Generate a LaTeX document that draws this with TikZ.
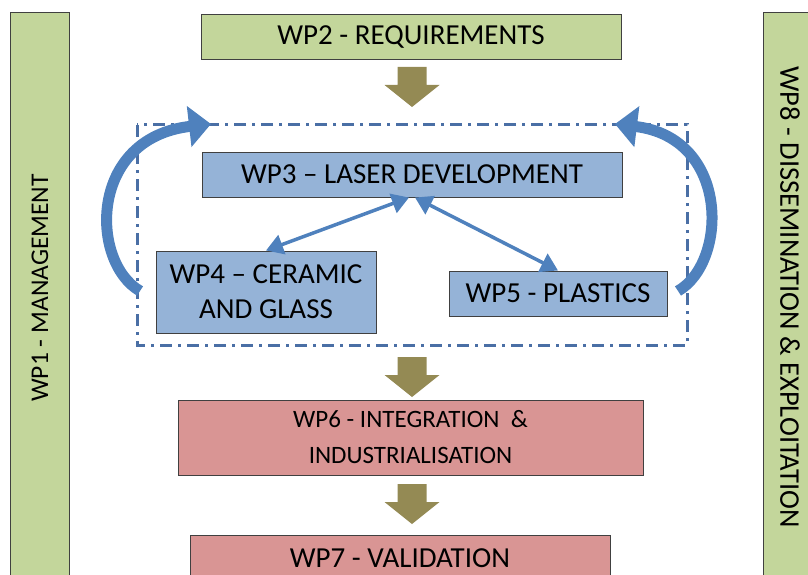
\documentclass[tikz,border=0pt]{standalone}
\usepackage{fontspec}
\setmainfont{Carlito}
\usetikzlibrary{arrows.meta}
\definecolor{wpgreen}{HTML}{C3D69B}
\definecolor{wpblue}{HTML}{95B3D7}
\definecolor{wppink}{HTML}{D99594}
\definecolor{wpolive}{HTML}{948A54}
\definecolor{wplink}{HTML}{4F81BD}
\definecolor{wpdash}{HTML}{4A6FA5}
% olive block arrow pointing down, top centre at (#1,#2)
\newcommand{\dnarrow}[2]{\fill[wpolive] (#1-14.5,#2)--(#1+14.5,#2)--(#1+14.5,#2+18)--(#1+27.5,#2+18)--(#1,#2+40)--(#1-27.5,#2+18)--(#1-14.5,#2+18)--cycle;}

\begin{document}
\begin{tikzpicture}[x=1pt,y=-1pt,
  wp/.style={draw=black!75,line width=1pt,inner sep=0pt,align=center,
    font=\fontsize{29}{35}\selectfont},
  link/.style={wplink,line width=3.5pt,{Triangle[length=17pt,width=20pt]}-{Triangle[length=17pt,width=20pt]}},
  loop/.style={wplink,line width=11pt,-{Triangle[length=22pt,width=40pt]}}]
\useasboundingbox (0,0) rectangle (808,575);
\clip (0,0) rectangle (808,575);
%\draw[help lines,step=50] (0,0) grid (808,575);

% side bars
\draw[fill=wpgreen,draw=black!75,line width=1pt] (10,13) rectangle (69,600);
\draw[fill=wpgreen,draw=black!75,line width=1pt] (763,13) rectangle (830,600);
\node[rotate=90,font=\fontsize{25.5}{30}\selectfont] (wp1) at (40,288) {WP1 - MANAGEMENT};
\node[rotate=-90,font=\fontsize{28.5}{30}\selectfont] (wp8) at (790,297) {WP8 - DISSEMINATION \& EXPLOITATION};

% work packages
\node[wp,fill=wpgreen,minimum width=420,minimum height=45] (wp2) at (411,37.5) {WP2 - REQUIREMENTS};
\node[wp,fill=wpblue,minimum width=420,minimum height=45] (wp3) at (412,174.5) {WP3 -- LASER DEVELOPMENT};
\node[wp,fill=wpblue,minimum width=220,minimum height=82] (wp4) at (266,292) {WP4 -- CERAMIC\\AND GLASS};
\node[wp,fill=wpblue,minimum width=218,minimum height=45] (wp5) at (558,293.5) {WP5 - PLASTICS};
\node[wp,fill=wppink,minimum width=465,minimum height=75,font=\fontsize{25}{36}\selectfont] (wp6) at (410.5,437.5) {WP6 - INTEGRATION \ \&\\INDUSTRIALISATION};
\node[wp,fill=wppink,minimum width=420,minimum height=46,anchor=north] (wp7) at (400,535) {WP7 - VALIDATION};

% dash dot frame
\draw[wpdash,line width=3pt,dash pattern=on 12pt off 6pt on 3pt off 6pt] (137,125) rectangle (687,345);

% links
\draw[link] ([xshift=-3pt]wp3.south) -- (wp4.north);
\draw[link] ([xshift=3pt]wp3.south) -- (wp5.north);

% feedback loops
\coordinate (lt) at (140,291);
\coordinate (lh) at (211,124);
\coordinate (rt) at (678,291);
\coordinate (rh) at (615,124);
\draw[loop] (lt) .. controls (90,262) and (88,138) .. (lh);
\draw[loop] (rt) .. controls (728,262) and (730,138) .. (rh);

% flow arrows
\dnarrow{412}{67}
\dnarrow{412}{357}
\dnarrow{412}{484}
\end{tikzpicture}
\end{document}
